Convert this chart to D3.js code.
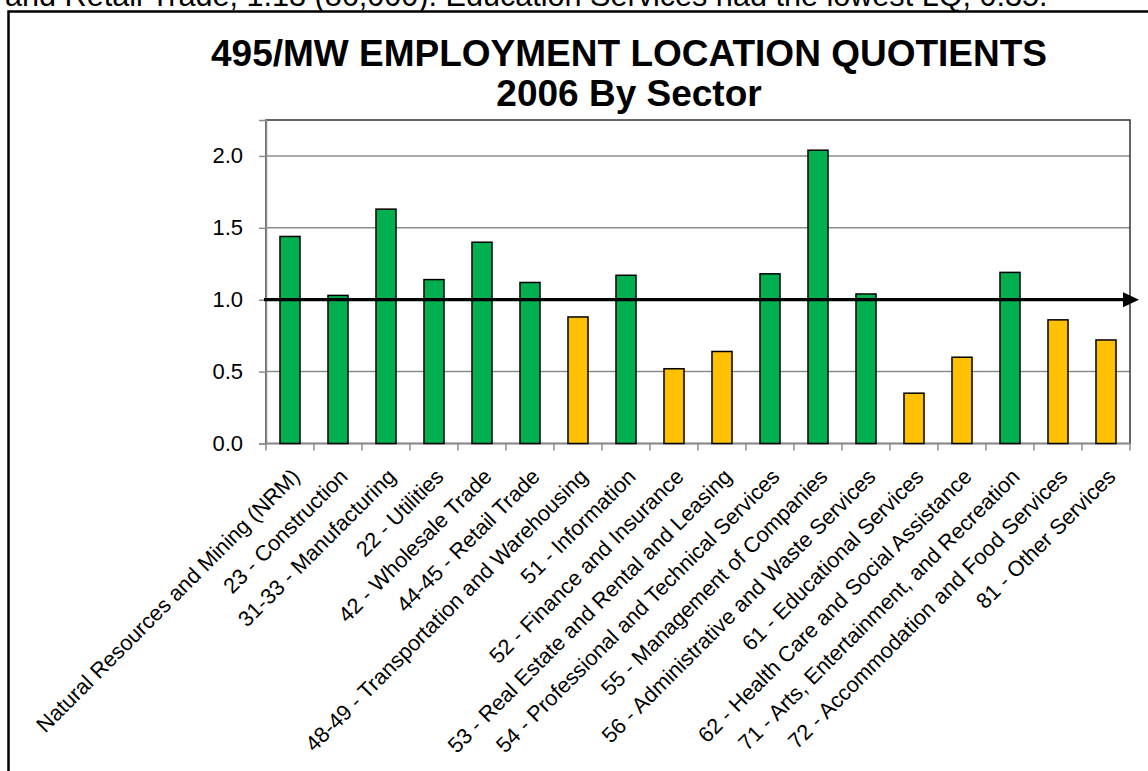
<!DOCTYPE html>
<html>
<head>
<meta charset="utf-8">
<script src="https://cdn.jsdelivr.net/npm/d3@7"></script>
<style>
  html, body { margin: 0; padding: 0; background: #fff; }
  svg { display: block; font-family: Arial, "Liberation Sans", sans-serif; }
</style>
</head>
<body>
<svg id="chart" width="1148" height="771"></svg>
<script>
// ---- data ----
const categories = [
  "Natural Resources and Mining (NRM)",
  "23 - Construction",
  "31-33 - Manufacturing",
  "22 - Utilities",
  "42 - Wholesale Trade",
  "44-45 - Retail Trade",
  "48-49 - Transportation and Warehousing",
  "51 - Information",
  "52 - Finance and Insurance",
  "53 - Real Estate and Rental and Leasing",
  "54 - Professional and Technical Services",
  "55 - Management of Companies",
  "56 - Administrative and Waste Services",
  "61 - Educational Services",
  "62 - Health Care and Social Assistance",
  "71 - Arts, Entertainment, and Recreation",
  "72 - Accommodation and Food Services",
  "81 - Other Services"
];
const lqValues = [1.44, 1.03, 1.63, 1.14, 1.40, 1.12, 0.88, 1.17, 0.52, 0.64, 1.18, 2.04, 1.04, 0.35, 0.60, 1.19, 0.86, 0.72];
const yTicks = [0.0, 0.5, 1.0, 1.5, 2.0];
const referenceValue = 1.0;
const titleLines = ["495/MW EMPLOYMENT LOCATION QUOTIENTS", "2006 By Sector"];
const aboveText = "and Retail Trade, 1.13 (86,000). Education Services had the lowest LQ, 0.35.";

// ---- layout ----
const svg = d3.select("#chart");
const W = 1148, H = 771;
const plot = { left: 266, right: 1130, top: 120, bottom: 443.5 };
const GREEN = "#00B050", YELLOW = "#FFC000";

svg.append("rect").attr("width", W).attr("height", H).attr("fill", "#fff");

// text of the document above the chart (cut off at the top)
svg.append("text")
  .attr("x", 5).attr("y", 6)
  .attr("font-size", 30.6)
  .attr("fill", "#000")
  .text(aboveText);

// chart frame
svg.append("rect")
  .attr("x", 8.5).attr("y", 11.5)
  .attr("width", 1300).attr("height", 1000)
  .attr("fill", "#fff").attr("stroke", "#000").attr("stroke-width", 2.5);

// title
const title = svg.append("g")
  .attr("text-anchor", "middle")
  .attr("font-weight", "bold")
  .attr("font-size", 37)
  .attr("fill", "#000");
title.append("text").attr("x", 629).attr("y", 66).text(titleLines[0]);
title.append("text").attr("x", 629).attr("y", 106).text(titleLines[1]);

// scales
const x = d3.scaleBand()
  .domain(categories)
  .range([plot.left, plot.right])
  .paddingInner(0.583)
  .paddingOuter(0.2915);
const y = d3.scaleLinear().domain([0, 2.25]).range([plot.bottom, plot.top]);

// gridlines
svg.append("g")
  .selectAll("line")
  .data(yTicks.filter(d => d > 0))
  .join("line")
  .attr("x1", plot.left).attr("x2", plot.right)
  .attr("y1", d => y(d)).attr("y2", d => y(d))
  .attr("stroke", "#8c8c8c").attr("stroke-width", 1.5);

// plot area border
svg.append("rect")
  .attr("x", plot.left).attr("y", plot.top)
  .attr("width", plot.right - plot.left).attr("height", plot.bottom - plot.top)
  .attr("fill", "none").attr("stroke", "#333").attr("stroke-width", 1.5);

// y axis
const yAxis = d3.axisLeft(y)
  .tickValues(yTicks)
  .tickSize(7)
  .tickPadding(16)
  .tickFormat(d3.format(".1f"));
const gy = svg.append("g").attr("transform", `translate(${plot.left},0)`).call(yAxis);
gy.select(".domain").attr("stroke", "#8c8c8c").attr("stroke-width", 1.5);
gy.selectAll(".tick line").attr("stroke", "#8c8c8c").attr("stroke-width", 1.5);
gy.selectAll(".tick text")
  .attr("font-size", 22)
  .attr("font-family", "Arial, 'Liberation Sans', sans-serif")
  .attr("fill", "#000");

// x axis (ticks at category boundaries)
const step = x.step();
const boundaries = d3.range(categories.length + 1).map(i => plot.left + i * step);
svg.append("g")
  .selectAll("line")
  .data(boundaries)
  .join("line")
  .attr("x1", d => d).attr("x2", d => d)
  .attr("y1", plot.bottom).attr("y2", plot.bottom + 7)
  .attr("stroke", "#8c8c8c").attr("stroke-width", 1.5);
svg.append("line")
  .attr("x1", plot.left).attr("x2", plot.right)
  .attr("y1", plot.bottom).attr("y2", plot.bottom)
  .attr("stroke", "#8c8c8c").attr("stroke-width", 1.5);

// bars
svg.append("g")
  .selectAll("rect")
  .data(categories.map((c, i) => ({ c, v: lqValues[i] })))
  .join("rect")
  .attr("x", d => x(d.c))
  .attr("width", x.bandwidth())
  .attr("y", d => y(d.v))
  .attr("height", d => y(0) - y(d.v))
  .attr("fill", d => d.v >= referenceValue ? GREEN : YELLOW)
  .attr("stroke", "#000").attr("stroke-width", 1.5);

// reference arrow at 1.0
const yr = y(referenceValue);
svg.append("line")
  .attr("x1", plot.left - 2).attr("x2", plot.right - 6)
  .attr("y1", yr).attr("y2", yr)
  .attr("stroke", "#000").attr("stroke-width", 3.2);
svg.append("path")
  .attr("d", `M${plot.right - 7},${yr - 7.5} L${plot.right + 9},${yr} L${plot.right - 7},${yr + 7.5} Z`)
  .attr("fill", "#000");

// category labels
svg.append("g")
  .selectAll("text")
  .data(categories)
  .join("text")
  .attr("transform", d => `translate(${x(d) + x.bandwidth() / 2 + 11},${478}) rotate(-45)`)
  .attr("text-anchor", "end")
  .attr("font-size", 21.7)
  .attr("fill", "#000")
  .text(d => d);
</script>
</body>
</html>
